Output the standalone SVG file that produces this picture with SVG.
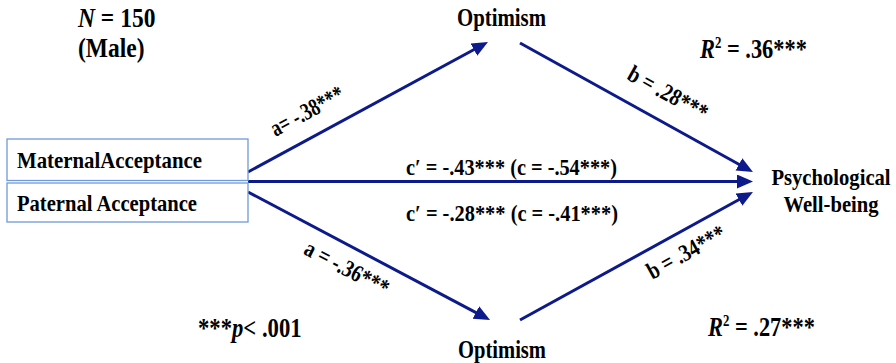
<svg xmlns="http://www.w3.org/2000/svg" width="896" height="363" viewBox="0 0 896 363">
<style>
text{font-family:"Liberation Serif","Times New Roman",serif;font-weight:bold;fill:#000}
.box{fill:#fff;stroke:#6f9ad8;stroke-width:1.3}
.ln{stroke:#0d1a8c;stroke-width:3;fill:none}
.lbl{font-size:24px}
.node{font-size:25px}
.big{font-size:28px}
</style>
<defs>
<marker id="ah" markerUnits="userSpaceOnUse" markerWidth="17" markerHeight="15" refX="6" refY="7" orient="auto">
<path d="M0,0 L16,7 L0,14 Z" fill="#0d1a8c"/>
</marker>
</defs>
<g id="connectors">
<line class="ln" x1="248" y1="172" x2="479.2" y2="46.8" marker-end="url(#ah)"/>
<line class="ln" x1="248" y1="181.5" x2="743" y2="181.5" marker-end="url(#ah)"/>
<line class="ln" x1="248" y1="192" x2="481.2" y2="315.3" marker-end="url(#ah)"/>
<line class="ln" x1="520" y1="43" x2="744.2" y2="167.2" marker-end="url(#ah)"/>
<line class="ln" x1="520" y1="320" x2="744.2" y2="196.8" marker-end="url(#ah)"/>
<text class="lbl" transform="translate(307,111) rotate(-28.4)" text-anchor="middle" y="8" textLength="80" lengthAdjust="spacingAndGlyphs">a= -.38***</text>
<text class="lbl" transform="translate(347,268) rotate(27.9)" text-anchor="middle" y="8" textLength="92" lengthAdjust="spacingAndGlyphs">a = -.36***</text>
<text class="lbl" transform="translate(668,93) rotate(29)" text-anchor="middle" y="8" textLength="88" lengthAdjust="spacingAndGlyphs">b = .28***</text>
<text class="lbl" transform="translate(686,252) rotate(-28.8)" text-anchor="middle" y="8" textLength="86" lengthAdjust="spacingAndGlyphs">b = .34***</text>
<text class="lbl" x="406" y="175" textLength="211" lengthAdjust="spacingAndGlyphs">c′ = -.43*** (c = -.54***)</text>
<text class="lbl" x="406" y="221" textLength="212" lengthAdjust="spacingAndGlyphs">c′ = -.28*** (c = -.41***)</text>
</g>
<g id="maternal">
<rect class="box" x="7" y="139" width="241" height="41.5"/>
<text class="lbl" x="17" y="167.5" textLength="185" lengthAdjust="spacingAndGlyphs">MaternalAcceptance</text>
</g>
<g id="paternal">
<rect class="box" x="7" y="183" width="241" height="39"/>
<text class="lbl" x="17" y="210.5" textLength="180" lengthAdjust="spacingAndGlyphs">Paternal Acceptance</text>
</g>
<g id="optimism-top">
<text class="node" x="457" y="26" textLength="89" lengthAdjust="spacingAndGlyphs">Optimism</text>
</g>
<g id="optimism-bottom">
<text class="node" x="458" y="358" textLength="88" lengthAdjust="spacingAndGlyphs">Optimism</text>
</g>
<g id="wellbeing">
<text class="node" transform="scale(0.86,1)" text-anchor="middle" style="font-size:24px"><tspan x="966.3" y="185">Psychological</tspan><tspan x="966.3" y="212.5">Well-being</tspan></text>
</g>
<g id="notes">
<text class="big" transform="translate(78,27) scale(0.84,1)"><tspan font-style="italic">N</tspan> = 150</text>
<text class="big" transform="translate(78,57) scale(0.84,1)">(Male)</text>
<text class="big" transform="translate(700,58) scale(0.8,1)"><tspan font-style="italic">R</tspan><tspan font-size="16" dy="-10">2</tspan><tspan dy="10"> = .36***</tspan></text>
<text class="big" transform="translate(708,336) scale(0.8,1)"><tspan font-style="italic">R</tspan><tspan font-size="16" dy="-10">2</tspan><tspan dy="10"> = .27***</tspan></text>
<text class="big" transform="translate(198,337) scale(0.81,1)">***<tspan font-style="italic">p</tspan>&lt; .001</text>
</g>
</svg>
